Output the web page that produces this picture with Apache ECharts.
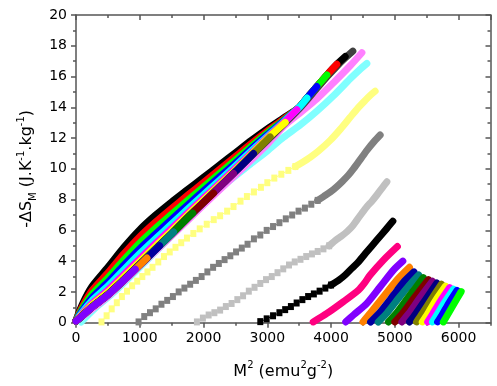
<!DOCTYPE html>
<html><head><meta charset="utf-8">
<script src="https://cdn.jsdelivr.net/npm/echarts@6/dist/echarts.min.js"></script>
<style>html,body{margin:0;padding:0;background:#fff}#c{width:497px;height:386px}</style>
</head><body><div id="c"></div>
<script>
// ---- axis ticks ----
const xMajorTicks = [0,1000,2000,3000,4000,5000,6000];
const yMajorTicks = [0,2,4,6,8,10,12,14,16,18,20];

// ---- middle curves: discrete-marker part and dense part ----
const ltYellowDots = [[400,0.05],[480,0.45],[560,0.9],[640,1.3],[720,1.7],[800,2.05],[880,2.4],[960,2.7],[1040,3.0],[1120,3.3],[1200,3.6],[1290,3.95],[1380,4.3],[1470,4.6],[1560,4.9],[1650,5.2],[1740,5.5],[1840,5.8],[1940,6.1],[2050,6.4],[2160,6.7],[2260,6.95],[2370,7.25],[2470,7.55],[2580,7.9],[2680,8.2],[2790,8.5],[2900,8.8],[3000,9.1],[3110,9.4],[3220,9.65],[3330,9.9],[3440,10.15]];
const ltYellowBand = [[3440,10.15],[3560,10.45],[3672,10.75],[3800,11.15],[3986,11.85],[4150,12.6],[4299,13.35],[4420,13.95],[4535,14.45],[4620,14.8],[4691,15.05]];
const grayDots = [[981,0.05],[1070,0.4],[1160,0.65],[1250,0.9],[1340,1.2],[1430,1.45],[1520,1.7],[1610,2.0],[1700,2.25],[1790,2.5],[1880,2.75],[1970,3.0],[2060,3.3],[2150,3.6],[2240,3.85],[2330,4.1],[2420,4.35],[2510,4.6],[2600,4.85],[2690,5.1],[2790,5.45],[2890,5.7],[2990,6.0],[3090,6.25],[3190,6.5],[3290,6.75],[3390,7.0],[3490,7.25],[3590,7.45],[3690,7.7],[3790,7.95]];
const grayBand = [[3790,7.95],[3881,8.2],[3990,8.5],[4091,8.85],[4180,9.2],[4273,9.6],[4350,10.0],[4430,10.45],[4500,10.85],[4561,11.2],[4680,11.8],[4770,12.2]];
const ltGrayDots = [[1896,0.05],[1990,0.3],[2080,0.5],[2170,0.65],[2260,0.82],[2350,1.05],[2440,1.25],[2530,1.5],[2620,1.75],[2710,2.05],[2800,2.3],[2890,2.55],[2980,2.8],[3070,3.0],[3160,3.25],[3250,3.5],[3340,3.75],[3430,3.95],[3520,4.12],[3610,4.3],[3700,4.47],[3790,4.63],[3880,4.8],[3970,5.0]];
const ltGrayBand = [[3970,5.0],[4091,5.42],[4170,5.65],[4248,5.91],[4330,6.25],[4404,6.67],[4480,7.1],[4561,7.54],[4640,7.9],[4718,8.3],[4800,8.75],[4875,9.16]];
const blackRDots = [[2890,0.07],[2990,0.25],[3090,0.45],[3190,0.65],[3280,0.85],[3370,1.05],[3460,1.28],[3550,1.5],[3640,1.7],[3730,1.87],[3820,2.05],[3910,2.25],[4000,2.45]];
const blackRBand = [[4000,2.45],[4116,2.75],[4221,3.1],[4325,3.53],[4430,3.96],[4561,4.61],[4718,5.37],[4875,6.13],[4969,6.6]];

// ---- curves hidden under the main bundle ----
const ltCyan = [[80,0.05],[300,0.95],[600,2.0],[1000,3.6],[1500,5.65],[2000,7.7],[2400,9.2],[2732,10.3],[2994,11.15],[3254,12.05],[3516,12.85],[3777,13.75],[4038,14.75],[4299,15.85],[4450,16.45],[4561,16.85]];
const ltMagenta = [[0,0.1],[500,1.72],[1000,3.68],[1500,5.65],[2000,7.65],[2500,9.6],[3000,11.6],[3254,12.75],[3516,13.65],[3777,14.55],[4038,15.6],[4299,16.7],[4483,17.55]];
const darkGray = [[0,0.1],[1000,3.75],[2000,7.8],[3000,11.85],[3500,13.9],[3777,15.22],[3934,15.97],[4091,16.67],[4221,17.2],[4341,17.65]];

// ---- main bundle from the origin ----
const gBlack = [[0,0.15],[100,1.2],[250,2.35],[500,3.6],[750,4.9],[1000,6.05],[1250,7.0],[1500,7.85],[1750,8.65],[2000,9.45],[2250,10.25],[2500,11.05],[2750,11.85],[3000,12.6],[3250,13.3],[3500,14.0],[3621,14.6],[3777,15.35],[3934,16.1],[4091,16.8],[4221,17.3]];
const gRed = [[0,0.14],[100,1.05],[250,2.08],[500,3.24],[750,4.47],[1000,5.59],[1250,6.55],[1500,7.43],[1750,8.28],[2000,9.12],[2250,9.96],[2500,10.8],[2750,11.65],[3000,12.46],[3250,13.22],[3500,14.0],[3621,14.6],[3777,15.35],[3934,16.1],[4091,16.8]];
const gGreen = [[0,0.13],[100,0.92],[250,1.84],[500,2.92],[750,4.08],[1000,5.18],[1250,6.15],[1500,7.05],[1750,7.95],[2000,8.82],[2250,9.7],[2500,10.58],[2750,11.47],[3000,12.33],[3250,13.15],[3500,14.0],[3621,14.6],[3777,15.35],[3934,16.1]];
const gBlue = [[0,0.12],[100,0.8],[250,1.62],[500,2.63],[750,3.74],[1000,4.81],[1250,5.78],[1500,6.72],[1750,7.65],[2000,8.56],[2250,9.47],[2500,10.38],[2750,11.31],[3000,12.22],[3250,13.08],[3500,14.0],[3621,14.6],[3777,15.35]];
const gCyan = [[0,0.12],[100,0.69],[250,1.43],[500,2.38],[750,3.44],[1000,4.49],[1250,5.47],[1500,6.42],[1750,7.39],[2000,8.33],[2250,9.26],[2500,10.2],[2750,11.17],[3000,12.12],[3250,13.03],[3500,14.0],[3621,14.6]];
const gMagenta = [[0,0.11],[100,0.59],[250,1.24],[500,2.12],[750,3.14],[1000,4.16],[1250,5.16],[1500,6.13],[1750,7.13],[2000,8.1],[2250,9.06],[2500,10.03],[2750,11.03],[3000,12.03],[3250,12.97],[3464,13.85]];
const gYellow = [[0,0.11],[100,0.53],[250,1.14],[500,1.98],[750,2.97],[1000,3.98],[1250,4.98],[1500,5.96],[1750,6.99],[2000,7.97],[2250,8.95],[2500,9.93],[2750,10.95],[3000,11.97],[3281,13.02]];
const gDarkYellow = [[0,0.1],[100,0.47],[250,1.04],[500,1.85],[750,2.81],[1000,3.82],[1250,4.82],[1500,5.81],[1750,6.86],[2000,7.85],[2250,8.84],[2500,9.84],[2750,10.88],[3045,12.08]];
const gNavy = [[0,0.1],[100,0.46],[250,1.03],[500,1.84],[750,2.8],[1000,3.8],[1250,4.8],[1500,5.79],[1750,6.84],[2000,7.83],[2250,8.83],[2500,9.82],[2784,11.0]];
const gPurple = [[0,0.1],[100,0.46],[250,1.02],[500,1.83],[750,2.78],[1000,3.79],[1250,4.79],[1500,5.78],[1750,6.83],[2000,7.82],[2250,8.82],[2470,9.7]];
const gWine = [[0,0.1],[100,0.45],[250,1.01],[500,1.82],[750,2.77],[1000,3.78],[1250,4.78],[1500,5.77],[1750,6.82],[2000,7.81],[2157,8.42]];
const gOlive = [[0,0.1],[100,0.45],[250,1.01],[500,1.81],[750,2.76],[1000,3.77],[1250,4.77],[1500,5.76],[1750,6.81],[1830,7.12]];
const gTeal = [[0,0.1],[100,0.45],[250,1.0],[500,1.8],[750,2.75],[1000,3.76],[1250,4.76],[1530,5.9]];
const gRoyal = [[0,0.1],[100,0.45],[250,1.0],[500,1.8],[750,2.75],[1000,3.75],[1311,5.0]];
const gOrange = [[0,0.1],[100,0.45],[250,1.0],[500,1.8],[750,2.75],[1000,3.75],[1113,4.2]];
const gViolet = [[0,0.1],[100,0.45],[250,1.0],[500,1.8],[750,2.75],[930,3.47]];

// ---- right fan ----
const rPink = [[3720,0.05],[3934,0.6],[4194,1.37],[4430,2.12],[4520,2.55],[4613,3.1],[4821,4.07],[5040,4.95]];
const rViolet = [[4230,0.05],[4351,0.5],[4561,1.26],[4770,2.34],[4978,3.42],[5125,4.0]];
const rOrange = [[4500,0.05],[4613,0.61],[4821,1.69],[5031,2.77],[5230,3.6]];
const rRoyal = [[4620,0.05],[4780,0.75],[4980,1.8],[5140,2.65],[5300,3.3]];
const rTeal = [[4740,0.05],[4880,0.65],[5080,1.7],[5240,2.5],[5375,3.1]];
const rOlive = [[4900,0.05],[5020,0.6],[5200,1.6],[5330,2.3],[5445,2.93]];
const rWine = [[5000,0.05],[5120,0.6],[5300,1.6],[5525,2.8]];
const rPurple = [[5110,0.05],[5220,0.6],[5390,1.6],[5590,2.7]];
const rNavy = [[5230,0.05],[5330,0.6],[5480,1.5],[5660,2.58]];
const rDarkYellow = [[5340,0.05],[5430,0.6],[5570,1.5],[5730,2.5]];
const rYellow = [[5430,0.05],[5510,0.55],[5640,1.45],[5795,2.38]];
const rMagenta = [[5515,0.05],[5590,0.55],[5715,1.4],[5860,2.28]];
const rCyan = [[5590,0.05],[5665,0.55],[5785,1.35],[5920,2.18]];
const rBlue = [[5670,0.05],[5740,0.5],[5850,1.3],[5975,2.1]];
const rGreen = [[5760,0.05],[5825,0.5],[5930,1.25],[6040,2.02]];

const C = {black:'#000000',red:'#FF0000',green:'#00FF00',blue:'#0000FF',cyan:'#00FFFF',magenta:'#FF00FF',yellow:'#FFFF00',dkyellow:'#808000',navy:'#000080',purple:'#800080',wine:'#800000',olive:'#008000',teal:'#008080',royal:'#0000A0',orange:'#FF8000',violet:'#8000FF',pink:'#FF0080',ltgray:'#C0C0C0',gray:'#808080',ltyellow:'#FFFF80',ltcyan:'#80FFFF',ltmagenta:'#FF80FF',dkgray:'#404040'};

function band(data, color){
  return {type:'line', data:data, symbol:'none', smooth:0.25, silent:true,
    lineStyle:{color:color, width:7, cap:'round', join:'round'}, animation:false};
}
function dots(data, color){
  return {type:'line', data:data, symbol:'rect', symbolSize:[6,7], silent:true,
    itemStyle:{color:color}, lineStyle:{color:color, width:1}, animation:false};
}

const series = [
  dots(ltYellowDots, C.ltyellow), band(ltYellowBand, C.ltyellow),
  dots(grayDots, C.gray), band(grayBand, C.gray),
  dots(ltGrayDots, C.ltgray), band(ltGrayBand, C.ltgray),
  dots(blackRDots, C.black), band(blackRBand, C.black),
  band(ltCyan, C.ltcyan), band(ltMagenta, C.ltmagenta), band(darkGray, C.dkgray),
  band(gBlack, C.black), band(gRed, C.red), band(gGreen, C.green), band(gBlue, C.blue),
  band(gCyan, C.cyan), band(gMagenta, C.magenta), band(gYellow, C.yellow),
  band(gDarkYellow, C.dkyellow), band(gNavy, C.navy), band(gPurple, C.purple),
  band(gWine, C.wine), band(gOlive, C.olive), band(gTeal, C.teal), band(gRoyal, C.royal),
  band(gOrange, C.orange), band(gViolet, C.violet),
  band(rPink, C.pink), band(rViolet, C.violet), band(rOrange, C.orange), band(rRoyal, C.royal),
  band(rTeal, C.teal), band(rOlive, C.olive), band(rWine, C.wine), band(rPurple, C.purple),
  band(rNavy, C.navy), band(rDarkYellow, C.dkyellow), band(rYellow, C.yellow),
  band(rMagenta, C.magenta), band(rCyan, C.cyan), band(rBlue, C.blue), band(rGreen, C.green)
];

const AX = '#555';
const FONT = 'DejaVu Sans';
const nameRich = {
  b:{fontSize:16, fontFamily:FONT, color:'#000', lineHeight:22, verticalAlign:'middle'},
  sup:{fontSize:10, fontFamily:FONT, color:'#000', lineHeight:10, verticalAlign:'top'},
  sub:{fontSize:10, fontFamily:FONT, color:'#000', lineHeight:10, verticalAlign:'bottom'}
};
function xAx(pos, withLabels, interval, len, inside){
  return {type:'value', min:0, max:6500, interval:interval, position:pos,
    axisLine:{show:withLabels, onZero:false, lineStyle:{color:AX, width:1.5}},
    axisTick:{show:true, inside:inside, length:len, lineStyle:{color:AX, width:1.5}},
    axisLabel:{show:withLabels && pos==='bottom', color:'#000', fontFamily:FONT, fontSize:14, margin:9,
      showMaxLabel:false, formatter:function(v){return xMajorTicks.indexOf(v)>=0 ? String(v) : '';}},
    splitLine:{show:false}};
}
const xBottom = xAx('bottom', true, 1000, 5, false);
xBottom.name = '{b|M}{sup|2}{b| (emu}{sup|2}{b|g}{sup|-2}{b|)}';
xBottom.nameLocation = 'middle';
xBottom.nameGap = 38;
xBottom.nameTextStyle = {rich:nameRich};

function yAx(pos, withLabels, inside){
  return {type:'value', min:0, max:20, interval:2, position:pos,
    axisLine:{show:true, onZero:false, lineStyle:{color:AX, width:1.5}},
    axisTick:{show:true, inside:inside, length:5, lineStyle:{color:AX, width:1.5}},
    minorTick:{show:true, splitNumber:2, length:3, lineStyle:{color:AX, width:1.5}},
    axisLabel:{show:withLabels, color:'#000', fontFamily:FONT, fontSize:14, margin:9,
      formatter:function(v){return yMajorTicks.indexOf(v)>=0 ? String(v) : '';}},
    splitLine:{show:false}};
}
const yLeft = yAx('left', true, false);
yLeft.name = '{b|-ΔS}{sub|M}{b| (J.K}{sup|-1}{b|.kg}{sup|-1}{b|)}';
yLeft.nameLocation = 'middle';
yLeft.nameRotate = 90;
yLeft.nameGap = 36;
yLeft.nameTextStyle = {rich:nameRich};

const option = {
  backgroundColor:'#fff',
  animation:false,
  grid:{left:76, right:6.5, top:15, bottom:63.3, containLabel:false},
  xAxis:[xBottom, xAx('bottom', false, 500, 3, false), xAx('top', true, 1000, 5, true), xAx('top', false, 500, 3, true)],
  yAxis:[yLeft, yAx('right', false, true)],
  series:series
};
const chart = echarts.init(document.getElementById('c'), null, {renderer:'canvas'});
chart.setOption(option);
</script>
</body></html>
